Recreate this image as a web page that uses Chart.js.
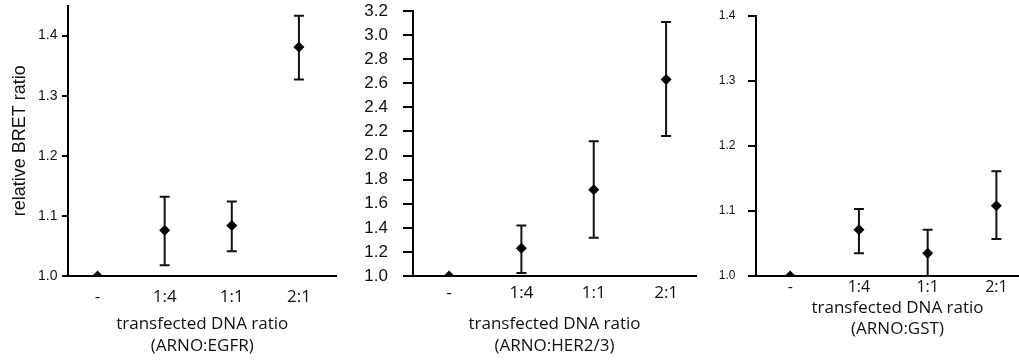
<!DOCTYPE html>
<html>
<head>
<meta charset="utf-8">
<script src="https://cdn.jsdelivr.net/npm/chart.js@4.4.0/dist/chart.umd.min.js"></script>
<style>
  html, body { margin: 0; padding: 0; background: #fff; overflow: hidden; width: 1019px; height: 360px; }
  canvas { position: absolute; top: 0; }
</style>
</head>
<body>
<canvas id="egfr" width="342" height="360" style="left:0px"></canvas>
<canvas id="her" width="360" height="360" style="left:342px"></canvas>
<canvas id="gst" width="343" height="360" style="left:702px"></canvas>
<script>
const categories = ['-', '1:4', '1:1', '2:1'];

// ARNO:EGFR
const egfrMean = [1.0, 1.076, 1.084, 1.381];
const egfrLow = [1.0, 1.018, 1.041, 1.327];
const egfrHigh = [1.0, 1.132, 1.124, 1.433];
const egfrTicks = [1.0, 1.1, 1.2, 1.3, 1.4];

// ARNO:HER2/3
const herMean = [1.0, 1.23, 1.717, 2.632];
const herLow = [1.0, 1.025, 1.318, 2.162];
const herHigh = [1.0, 1.42, 2.118, 3.108];
const herTicks = [1.0, 1.2, 1.4, 1.6, 1.8, 2.0, 2.2, 2.4, 2.6, 2.8, 3.0, 3.2];

// ARNO:GST
const gstMean = [1.0, 1.071, 1.035, 1.108];
const gstLow = [1.0, 1.035, 1.0, 1.057];
const gstHigh = [1.0, 1.103, 1.071, 1.161];
const gstTicks = [1.0, 1.1, 1.2, 1.3, 1.4];

// draws the error bars under the diamonds, using the chart's scales
const errorBars = {
  id: 'errorBars',
  beforeDatasetsDraw(chart) {
    const ctx = chart.ctx;
    const xs = chart.scales.x;
    const ys = chart.scales.y;
    chart.data.datasets.forEach((ds) => {
      ds.data.forEach((pt, i) => {
        const lo = ds.lower[i];
        const hi = ds.upper[i];
        if (lo === hi) return;
        const x = xs.getPixelForValue(pt.x);
        const yLo = ys.getPixelForValue(lo);
        const yHi = ys.getPixelForValue(hi);
        ctx.save();
        ctx.strokeStyle = '#111';
        ctx.lineWidth = 2;
        ctx.beginPath();
        ctx.moveTo(x, yHi);
        ctx.lineTo(x, yLo);
        ctx.moveTo(x - 5, yHi);
        ctx.lineTo(x + 5, yHi);
        ctx.moveTo(x - 5, yLo);
        ctx.lineTo(x + 5, yLo);
        ctx.stroke();
        ctx.restore();
      });
    });
  }
};

// no extra room for tick labels, the layout padding sets the plot box
const noScalePadding = (s) => {
  s.paddingTop = 0;
  s.paddingBottom = 0;
  s.paddingLeft = 0;
  s.paddingRight = 0;
};

function makeChart(id, means, lows, highs, yTicks, cfg) {
  return new Chart(document.getElementById(id), {
    type: 'scatter',
    data: {
      datasets: [{
        data: means.map((v, i) => ({ x: i, y: v })),
        lower: lows,
        upper: highs,
        pointStyle: 'rectRot',
        pointRadius: 5.5,
        pointBackgroundColor: '#000',
        pointBorderColor: '#000',
        pointBorderWidth: 0,
        showLine: false
      }]
    },
    options: {
      responsive: false,
      animation: false,
      layout: { padding: { top: cfg.padTop, left: 0, right: 0, bottom: 0 } },
      plugins: { legend: { display: false }, tooltip: { enabled: false } },
      scales: {
        x: {
          type: 'linear',
          min: cfg.xMin,
          max: cfg.xMax,
          afterBuildTicks: (s) => { s.ticks = categories.map((c, i) => ({ value: i })); },
          afterFit: (s) => { s.height = 84; noScalePadding(s); },
          grid: { display: false, drawTicks: false },
          border: { display: true, color: '#000', width: 2 },
          ticks: {
            autoSkip: false,
            maxRotation: 0,
            padding: cfg.xTickPad,
            color: '#111',
            font: { family: 'Open Sans', size: cfg.xFont },
            callback: (v) => categories[v]
          },
          title: {
            display: true,
            text: ['transfected DNA ratio', cfg.label],
            color: '#111',
            padding: { top: 0, bottom: cfg.titlePad },
            font: { family: 'Open Sans', size: 17, lineHeight: cfg.titleLH + 'px' }
          }
        },
        y: {
          min: 1.0,
          max: cfg.yMax,
          afterBuildTicks: (s) => { s.ticks = yTicks.map((v) => ({ value: v })); },
          afterFit: (s) => { s.width = cfg.yWidth; noScalePadding(s); },
          grid: {
            display: true,
            drawOnChartArea: false,
            drawTicks: true,
            tickLength: cfg.tickLen,
            color: '#000',
            lineWidth: 2
          },
          border: { display: true, color: '#000', width: 2 },
          ticks: {
            autoSkip: false,
            padding: cfg.yTickPad,
            color: '#111',
            font: { family: 'Liberation Sans', size: cfg.yFont },
            callback: (v) => v.toFixed(1)
          },
          title: {
            display: !!cfg.yTitle,
            text: cfg.yTitle,
            color: '#111',
            padding: { top: 9, bottom: 0 },
            font: { family: 'Liberation Sans', size: 18 }
          }
        }
      }
    },
    plugins: [errorBars]
  });
}

makeChart('egfr', egfrMean, egfrLow, egfrHigh, egfrTicks, {
  label: '(ARNO:EGFR)', yTitle: 'relative BRET ratio',
  padTop: 5, yMax: 1.45, yWidth: 68, yFont: 14, tickLen: 6, yTickPad: 4.5,
  xMin: -0.44, xMax: 3.56, xFont: 17, xTickPad: 11, titlePad: 3, titleLH: 22
});

makeChart('her', herMean, herLow, herHigh, herTicks, {
  label: '(ARNO:HER2/3)', yTitle: '',
  padTop: 11, yMax: 3.2, yWidth: 70.5, yFont: 17, tickLen: 9.5, yTickPad: 15,
  xMin: -0.505, xMax: 3.42, xFont: 17, xTickPad: 7, titlePad: 2.5, titleLH: 22
});

makeChart('gst', gstMean, gstLow, gstHigh, gstTicks, {
  label: '(ARNO:GST)', yTitle: '',
  padTop: 15.5, yMax: 1.4, yWidth: 53.5, yFont: 12, tickLen: 7.5, yTickPad: 12.5,
  xMin: -0.505, xMax: 3.627, xFont: 16, xTickPad: 1.5, titlePad: 21, titleLH: 20.5
});
</script>
</body>
</html>
